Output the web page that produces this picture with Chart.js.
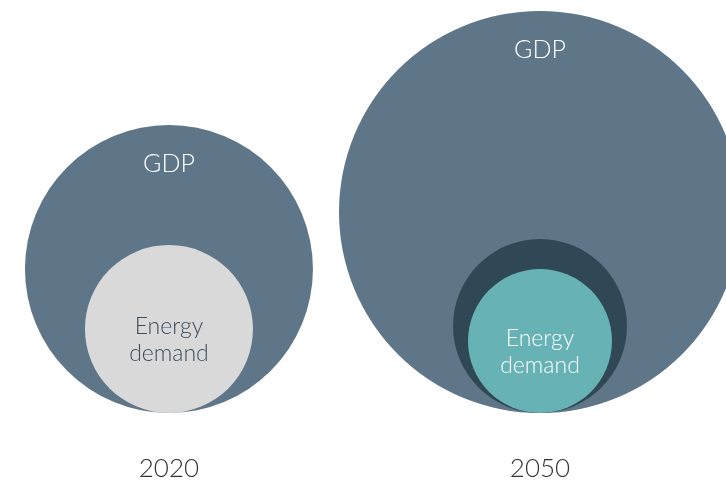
<!DOCTYPE html>
<html>
<head>
<meta charset="utf-8">
<script src="https://cdn.jsdelivr.net/npm/chart.js@4"></script>
<style>
  body { margin: 0; background: #ffffff; }
  #wrap { width: 726px; height: 480px; }
</style>
</head>
<body>
<div id="wrap"><canvas id="circles" width="726" height="480"></canvas></div>
<script>
// years shown and the size (radius) of each circle, same units as the y axis
const years = [2020, 2050];
const gdpSize = [144, 201];
const demandOuterSize = [null, 87];
const demandSize = [84, 72];
const gdpLabel = "GDP";
const demandLabel = ["Energy", "demand"];

const FONT = "Lato, 'Noto Sans', sans-serif";

// circles sit on the axis baseline, so each centre is at y = size;
// the y axis spans 480 units over 480px, so r in px equals size
const bubbles = (sizes) =>
  years
    .map((yr, i) => (sizes[i] == null ? null : { x: yr, y: sizes[i], r: sizes[i] }))
    .filter((p) => p);

const labelsPlugin = {
  id: "circleLabels",
  afterDatasetsDraw(chart) {
    const { ctx, scales } = chart;
    const x = scales.x, y = scales.y;
    ctx.save();
    ctx.textAlign = "center";
    ctx.textBaseline = "alphabetic";
    years.forEach((yr, i) => {
      const cx = x.getPixelForValue(yr);
      // GDP label near the top of the big circle
      ctx.fillStyle = "#ffffff";
      ctx.font = "300 25px " + FONT;
      ctx.fillText(gdpLabel, cx, y.getPixelForValue(gdpSize[i] * 2) + 47);
      // energy demand label inside the small circle
      const cy = y.getPixelForValue(demandSize[i]);
      ctx.fillStyle = i === 0 ? "#3c4d5c" : "#ffffff";
      ctx.font = "300 23px " + FONT;
      ctx.fillText(demandLabel[0], cx, cy + 5);
      ctx.fillText(demandLabel[1], cx, cy + 32);
      // year under the baseline
      ctx.fillStyle = "#333333";
      ctx.font = "300 26px " + FONT;
      ctx.fillText(String(yr), cx, y.getPixelForValue(-64));
    });
    ctx.restore();
  },
};

new Chart(document.getElementById("circles"), {
  type: "bubble",
  data: {
    datasets: [
      // higher order is drawn underneath
      { label: "GDP", data: bubbles(gdpSize), backgroundColor: "#5f7689", order: 3 },
      { label: "Energy demand (outer)", data: bubbles(demandOuterSize), backgroundColor: "#304755", order: 2 },
      {
        label: "Energy demand",
        data: bubbles(demandSize),
        backgroundColor: ["#d9d9d9", "#66b2b5"],
        order: 1,
      },
    ],
  },
  options: {
    responsive: false,
    animation: false,
    layout: { padding: 0, autoPadding: false },
    elements: {
      point: { borderWidth: 0, hoverBorderWidth: 0, hoverRadius: 0 },
    },
    scales: {
      x: { type: "linear", min: 2006.34, max: 2065.04, display: false },
      y: { type: "linear", min: -67, max: 413, display: false },
    },
    plugins: {
      legend: { display: false },
      tooltip: { enabled: false },
    },
  },
  plugins: [labelsPlugin],
});
</script>
</body>
</html>
